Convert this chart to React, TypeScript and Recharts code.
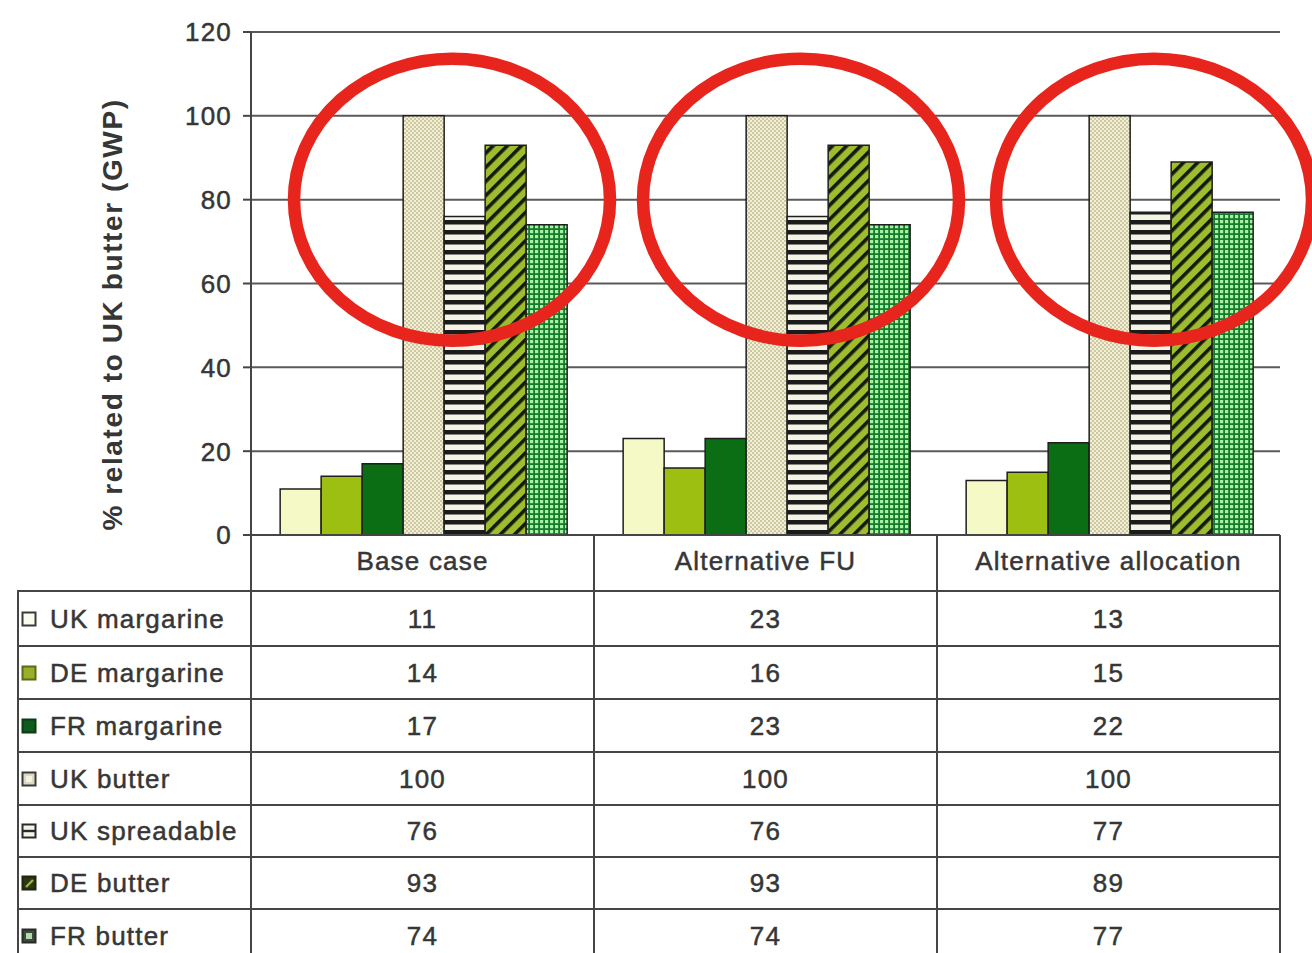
import React from 'react';
import { BarChart, Bar, XAxis, YAxis, CartesianGrid, ReferenceDot } from 'recharts';

// Scenarios on the category axis
const categories = ['Base case', 'Alternative FU', 'Alternative allocation'];

// GWP of each product, % relative to UK butter
const ukMargarine = [11, 23, 13];
const deMargarine = [14, 16, 15];
const frMargarine = [17, 23, 22];
const ukButter = [100, 100, 100];
const ukSpreadable = [76, 76, 77];
const deButter = [93, 93, 89];
const frButter = [74, 74, 77];

const yTicks = [0, 20, 40, 60, 80, 100, 120];

// Level around which the butter group of each scenario is ringed
const ringLevel = [80, 80, 80];
// Horizontal nudge (px) of each ring from its scenario centre
const ringShift = [29.5, 35.5, 45.5];

type SeriesDef = { key: string; name: string; values: number[]; fill: string };

const series: SeriesDef[] = [
  { key: 'ukMargarine', name: 'UK margarine', values: ukMargarine, fill: '#f5f9c6' },
  { key: 'deMargarine', name: 'DE margarine', values: deMargarine, fill: '#9dbf12' },
  { key: 'frMargarine', name: 'FR margarine', values: frMargarine, fill: '#0b6d14' },
  { key: 'ukButter', name: 'UK butter', values: ukButter, fill: 'url(#patDots)' },
  { key: 'ukSpreadable', name: 'UK spreadable', values: ukSpreadable, fill: 'url(#patHoriz)' },
  { key: 'deButter', name: 'DE butter', values: deButter, fill: 'url(#patDiag)' },
  { key: 'frButter', name: 'FR butter', values: frButter, fill: 'url(#patGrid)' },
];

const data = categories.map((category, i) => {
  const row: Record<string, string | number> = { category };
  series.forEach((s) => {
    row[s.key] = s.values[i];
  });
  return row;
});

const FONT = '"Liberation Sans", Arial, Helvetica, sans-serif';
const INK = '#363636';
const RULE = '#454545';
const FS = 26;
const LS = 1.2;

const W = 1312;
const H = 953;
const PLOT_LEFT = 251;
const PLOT_RIGHT = 1280;
const PLOT_TOP = 32;
const PLOT_BOTTOM = 535;
const Y_AXIS_W = 80;
const X_AXIS_H = 60;
const TABLE_LEFT = 18;
const rowTops = [591, 646, 699, 752, 805, 857, 909, 962];

const HeaderTick = (props: any) => {
  const { x, y, payload } = props;
  return (
    <text
      x={x}
      y={y + 35}
      textAnchor="middle"
      fontFamily={FONT}
      fontSize={FS}
      letterSpacing={LS}
      fill={INK}
      stroke={INK}
      strokeWidth={0.5}
    >
      {payload.value}
    </text>
  );
};

const ValueTick = (props: any) => {
  const { x, y, payload } = props;
  return (
    <text
      x={x}
      y={y}
      dy="0.36em"
      textAnchor="end"
      fontFamily={FONT}
      fontSize={FS}
      letterSpacing={LS}
      fill={INK}
      stroke={INK}
      strokeWidth={0.5}
    >
      {payload.value}
    </text>
  );
};

const makeRing = (shift: number) => (props: any) => (
  <ellipse
    cx={props.cx + shift}
    cy={props.cy}
    rx={158}
    ry={141}
    fill="none"
    stroke="#e8251d"
    strokeWidth={12.5}
  />
);

const AxisTitle = (props: any) => {
  const vb = props.viewBox || {};
  const cx = vb.x + vb.width - 139;
  const cy = vb.y + vb.height / 2 + 31;
  return (
    <text
      x={cx}
      y={cy}
      transform={`rotate(-90 ${cx} ${cy})`}
      textAnchor="middle"
      dominantBaseline="central"
      fontFamily={FONT}
      fontWeight="bold"
      fontSize={28}
      letterSpacing={1.6}
      fill={INK}
    >
      % related to UK butter (GWP)
    </text>
  );
};

const Icon = ({ k }: { k: string }) => {
  const s = 16;
  let body: React.ReactNode = null;
  switch (k) {
    case 'ukMargarine':
      body = <rect x={1.5} y={1.5} width={13} height={13} fill="#fbfbee" stroke="#3a3a3a" strokeWidth={2} />;
      break;
    case 'deMargarine':
      body = <rect x={1.5} y={1.5} width={13} height={13} fill="#9aae2a" stroke="#5d6b12" strokeWidth={2} />;
      break;
    case 'frMargarine':
      body = <rect x={1.5} y={1.5} width={13} height={13} fill="#0f5a1e" stroke="#0b3d12" strokeWidth={2} />;
      break;
    case 'ukButter':
      body = (
        <g>
          <rect x={1.5} y={1.5} width={13} height={13} fill="#dedac0" stroke="#3a3a3a" strokeWidth={2} />
          <rect x={5} y={5} width={6} height={6} fill="#f4f2e2" />
        </g>
      );
      break;
    case 'ukSpreadable':
      body = (
        <g>
          <rect x={1.5} y={1.5} width={13} height={13} fill="#f4f4ea" stroke="#2a2a2a" strokeWidth={2} />
          <line x1={1.5} y1={8} x2={14.5} y2={8} stroke="#2a2a2a" strokeWidth={2.4} />
        </g>
      );
      break;
    case 'deButter':
      body = (
        <g>
          <rect x={1.5} y={1.5} width={13} height={13} fill="#2b3712" stroke="#1e260c" strokeWidth={2} />
          <line x1={5} y1={12} x2={12} y2={5} stroke="#9db43a" strokeWidth={2.4} />
        </g>
      );
      break;
    default:
      body = (
        <g>
          <rect x={1.5} y={1.5} width={13} height={13} fill="#3a4c3a" stroke="#2a2a2a" strokeWidth={2} />
          <rect x={5} y={5} width={6} height={6} fill="#b6d8b0" />
        </g>
      );
  }
  return (
    <svg width={s} height={s} style={{ display: 'block' }}>
      {body}
    </svg>
  );
};

const DataTable = () => {
  const colW = (PLOT_RIGHT - PLOT_LEFT) / categories.length;
  const colEdges = [0, 1, 2, 3].map((i) => PLOT_LEFT + i * colW);
  const bottom = H;
  const lines: React.ReactNode[] = [];
  rowTops.slice(0, 7).forEach((t, i) => {
    lines.push(
      <div
        key={`h${i}`}
        style={{ position: 'absolute', left: TABLE_LEFT - 1, top: t - 1, width: PLOT_RIGHT - TABLE_LEFT + 2, height: 2, background: RULE }}
      />
    );
  });
  lines.push(
    <div
      key="vl"
      style={{ position: 'absolute', left: TABLE_LEFT - 1, top: rowTops[0] - 1, width: 2, height: bottom - rowTops[0] + 1, background: RULE }}
    />
  );
  colEdges.forEach((x, i) => {
    lines.push(
      <div
        key={`v${i}`}
        style={{ position: 'absolute', left: x - 1, top: PLOT_BOTTOM, width: 2, height: bottom - PLOT_BOTTOM, background: RULE }}
      />
    );
  });
  const textStyle: React.CSSProperties = {
    fontFamily: FONT,
    fontSize: FS,
    letterSpacing: LS,
    color: INK,
    lineHeight: '1',
    whiteSpace: 'nowrap',
    WebkitTextStroke: `0.5px ${INK}`,
  };
  const cells: React.ReactNode[] = [];
  series.forEach((s, r) => {
    const top = rowTops[r];
    const h = rowTops[r + 1] - top;
    cells.push(
      <div
        key={`lab${r}`}
        style={{ position: 'absolute', left: TABLE_LEFT + 3, top, height: h, display: 'flex', alignItems: 'center', ...textStyle }}
      >
        <Icon k={s.key} />
        <span style={{ marginLeft: 13 }}>{s.name}</span>
      </div>
    );
    s.values.forEach((v, c) => {
      cells.push(
        <div
          key={`c${r}-${c}`}
          style={{
            position: 'absolute',
            left: colEdges[c],
            width: colW,
            top,
            height: h,
            display: 'flex',
            alignItems: 'center',
            justifyContent: 'center',
            ...textStyle,
          }}
        >
          {v}
        </div>
      );
    });
  });
  return (
    <div style={{ position: 'absolute', left: 0, top: 0, width: W, height: H, pointerEvents: 'none' }}>
      {lines}
      {cells}
    </div>
  );
};

export default function App() {
  return (
    <div style={{ position: 'absolute', left: 0, top: 0, width: W, height: H, background: '#ffffff', overflow: 'hidden' }}>
      <BarChart
        width={W}
        height={H}
        data={data}
        margin={{
          top: PLOT_TOP,
          right: W - PLOT_RIGHT,
          left: PLOT_LEFT - Y_AXIS_W,
          bottom: H - PLOT_BOTTOM - X_AXIS_H,
        }}
        barCategoryGap="8.5%"
        barGap={0}
      >
        <defs>
          <pattern id="patDots" patternUnits="userSpaceOnUse" width={4} height={4}>
            <rect width={4} height={4} fill="#f1efd6" />
            <rect x={0} y={0} width={2} height={2} fill="#cdc8a2" />
            <rect x={2} y={2} width={2} height={2} fill="#cdc8a2" />
          </pattern>
          <pattern id="patHoriz" patternUnits="userSpaceOnUse" width={10} height={10}>
            <rect width={10} height={10} fill="#f3f3e6" />
            <rect x={0} y={0} width={10} height={4.5} fill="#1b1b1b" />
          </pattern>
          <pattern id="patDiag" patternUnits="userSpaceOnUse" width={10} height={10} patternTransform="rotate(45)">
            <rect width={10} height={10} fill="#9dbd2f" />
            <rect x={0} y={0} width={3.6} height={10} fill="#141a08" />
          </pattern>
          <pattern id="patGrid" patternUnits="userSpaceOnUse" width={5} height={5}>
            <rect width={5} height={5} fill="#167a2c" />
            <rect x={0} y={0} width={3.2} height={3.2} fill="#a8f0a2" />
          </pattern>
        </defs>
        <CartesianGrid vertical={false} stroke="#5a5a5a" strokeWidth={2} />
        <XAxis
          dataKey="category"
          height={X_AXIS_H}
          axisLine={{ stroke: RULE, strokeWidth: 2 }}
          tickLine={false}
          tickSize={0}
          tickMargin={0}
          tick={<HeaderTick />}
          interval={0}
        />
        <YAxis
          width={Y_AXIS_W}
          domain={[0, 120]}
          ticks={yTicks}
          interval={0}
          axisLine={{ stroke: RULE, strokeWidth: 2 }}
          tickLine={{ stroke: RULE, strokeWidth: 2 }}
          tickSize={8}
          tickMargin={11}
          tick={<ValueTick />}
          label={{ content: <AxisTitle /> }}
        />
        {series.map((s) => (
          <Bar
            key={s.key}
            dataKey={s.key}
            name={s.name}
            fill={s.fill}
            stroke="#1e1e1e"
            strokeWidth={1.5}
            isAnimationActive={false}
          />
        ))}
        {categories.map((c, i) => (
          <ReferenceDot
            key={`ring${i}`}
            x={c}
            y={ringLevel[i]}
            r={1}
            ifOverflow="visible"
            shape={makeRing(ringShift[i])}
          />
        ))}
      </BarChart>
      <DataTable />
    </div>
  );
}
